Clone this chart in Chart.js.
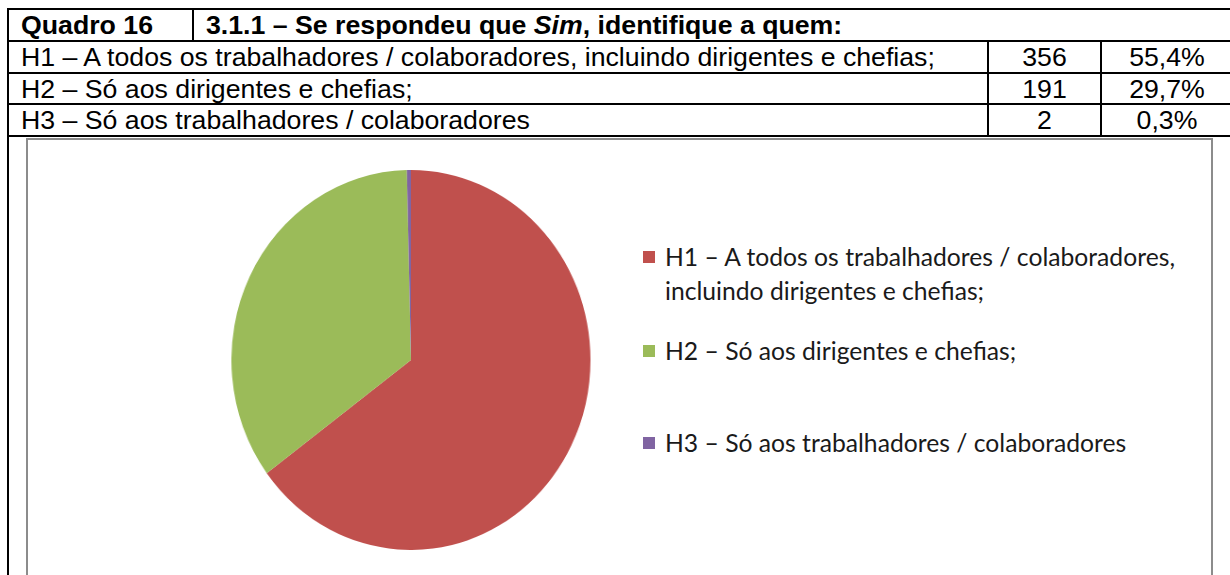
<!DOCTYPE html>
<html>
<head>
<meta charset="utf-8">
<script src="https://cdn.jsdelivr.net/npm/chart.js@4.4.0/dist/chart.umd.min.js"></script>
<style>
  body { margin: 0; background: #fff; width: 1230px; height: 575px; overflow: hidden; position: relative; }
  table { position: absolute; left: 7px; top: 8px; border-collapse: collapse; table-layout: fixed; width: 1229px;
          font-family: "Liberation Sans", Arial, sans-serif; font-size: 26.7px; color: #000; }
  td { border: 2px solid #000; padding: 0 0 0 12px; line-height: 24px; white-space: nowrap; overflow: hidden; }
  td.num { text-align: center; padding: 0; }
  #outerLeft { position: absolute; left: 7px; top: 136px; width: 2px; height: 440px; background: #000; }
  #box { position: absolute; left: 26px; top: 138px; width: 1183px; height: 450px; border: 2px solid #8c8c8c; border-bottom: none; }
  #pieWrap { position: absolute; left: 221px; top: 170px; width: 380px; height: 380px; transform: scaleX(0.945); transform-origin: 189px 0; }
  #legend { position: absolute; left: 643px; top: 240px; font-family: Lato, "Open Sans", sans-serif; font-size: 24.7px; color: #1a1a1a; }
  .item { position: absolute; left: 0; white-space: nowrap; line-height: 34px; }
  .sw { position: absolute; left: 0; top: 11px; width: 12px; height: 12px; }
  .txt { position: absolute; left: 22px; top: 0; }
</style>
</head>
<body>
<table>
  <colgroup><col style="width:185px"><col style="width:795px"><col style="width:113px"><col style="width:136px"></colgroup>
  <tr style="height:32px">
    <td style="font-weight:bold;">Quadro 16</td>
    <td colspan="3" style="font-weight:bold;">3.1.1 – Se respondeu que <i>Sim</i>, identifique a quem:</td>
  </tr>
  <tbody id="rows"></tbody>
</table>
<div id="outerLeft"></div>
<div id="box"></div>
<div id="pieWrap"><canvas id="myChart"></canvas></div>
<div id="legend"></div>

<script>
const categories = [
    'H1 – A todos os trabalhadores / colaboradores, incluindo dirigentes e chefias;',
    'H2 – Só aos dirigentes e chefias;',
    'H3 – Só aos trabalhadores / colaboradores'
];
const legendLines = [
    ['H1 – A todos os trabalhadores / colaboradores,', 'incluindo dirigentes e chefias;'],
    ['H2 – Só aos dirigentes e chefias;'],
    ['H3 – Só aos trabalhadores / colaboradores']
];
const counts = [356, 191, 2];
const percents = ['55,4%', '29,7%', '0,3%'];
const colors = ['#C0504D', '#9BBB59', '#8064A2'];

// table rows
const rowHeights = [32, 31, 32];
const tbody = document.getElementById('rows');
categories.forEach((c, i) => {
    const tr = document.createElement('tr');
    tr.style.height = rowHeights[i] + 'px';
    tr.innerHTML = '<td colspan="2">' + c + '</td>' +
        '<td class="num">' + counts[i] + '</td>' +
        '<td class="num" style="padding-right:4px">' + percents[i] + '</td>';
    tbody.appendChild(tr);
});

// legend
const legendTops = [0, 94, 186];
const legend = document.getElementById('legend');
legendLines.forEach((lines, i) => {
    const div = document.createElement('div');
    div.className = 'item';
    div.style.top = legendTops[i] + 'px';
    div.innerHTML = '<div class="sw" style="background:' + colors[i] + '"></div>' +
        '<div class="txt">' + lines.join('<br>') + '</div>';
    legend.appendChild(div);
});

const ctx = document.getElementById('myChart').getContext('2d');
const myChart = new Chart(ctx, {
    type: 'pie',
    data: {
        labels: categories,
        datasets: [{
            data: counts,
            backgroundColor: colors,
            borderWidth: 0
        }]
    },
    options: {
        responsive: true,
        maintainAspectRatio: false,
        animation: false,
        plugins: {
            legend: { display: false },
            tooltip: { enabled: false }
        }
    }
});
</script>
</body>
</html>
